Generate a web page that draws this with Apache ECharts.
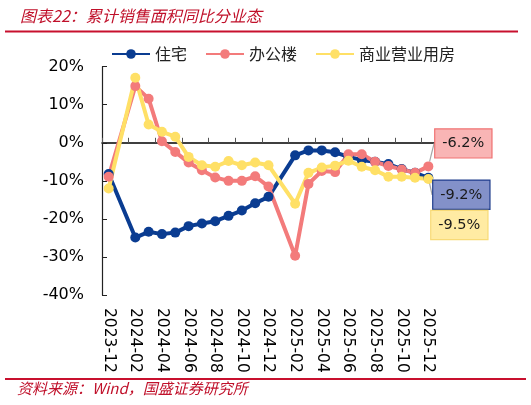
<!DOCTYPE html>
<html>
<head>
<meta charset="utf-8">
<script src="https://cdn.jsdelivr.net/npm/echarts@6/dist/echarts.min.js"></script>
<style>
html,body{margin:0;padding:0;background:#fff;}
#c{width:531px;height:405px;}
</style>
</head>
<body>
<div id="c"></div>
<script>
var categories = ['2023-12','2024-01','2024-02','2024-03','2024-04','2024-05','2024-06','2024-07','2024-08','2024-09','2024-10','2024-11','2024-12',
  '2025-01','2025-02','2025-03','2025-04','2025-05','2025-06','2025-07','2025-08','2025-09','2025-10','2025-11','2025-12'];
var residential = [-8.2, null, -24.9, -23.4, -24.0, -23.6, -21.9, -21.2, -20.6, -19.2, -17.8, -15.9, -14.2, null, -3.3, -2.0, -2.0, -2.5, -3.7, -4.5, -5.0, -5.6, -6.9, -7.9, -9.2];
var office = [-8.9, null, 14.9, 11.6, 0.4, -2.4, -5.2, -7.2, -9.1, -10.0, -10.0, -8.8, -11.5, null, -29.7, -10.8, -7.4, -7.7, -3.0, -3.0, -5.0, -6.1, -7.0, -7.9, -6.2];
var commercial = [-12.0, null, 17.1, 4.8, 2.9, 1.6, -3.7, -5.9, -6.3, -4.8, -5.9, -5.2, -5.9, null, -16.0, -7.9, -6.5, -6.0, -4.7, -6.3, -7.2, -8.9, -8.9, -9.2, -9.5];
var seriesNames = ['住宅','办公楼','商业营业用房'];
var yTicks = [-40, -30, -20, -10, 0, 10, 20];

var numFont = 'DejaVu Sans';
var cjkFont = 'Noto Sans CJK SC';

function withLastLabel(arr, bg, border) {
  var last = arr.length - 1;
  return arr.map(function (v, i) {
    if (i !== last) return v;
    return {
      value: v,
      label: {
        show: true,
        position: 'inside',
        formatter: function (p) { return p.value.toFixed(1) + '%'; },
        fontFamily: numFont,
        fontSize: 14.5,
        color: '#1a1a1a',
        backgroundColor: bg,
        borderColor: border,
        borderWidth: 1.2,
        padding: [6, 7, 5, 7],
        lineHeight: 17
      }
    };
  });
}

function mkSeries(name, arr, color, bg, border, dx, dy) {
  return {
    name: name,
    type: 'line',
    xAxisIndex: 0,
    data: withLastLabel(arr, bg, border),
    connectNulls: true,
    symbol: 'circle',
    symbolSize: 10,
    showAllSymbol: true,
    lineStyle: { color: color, width: 4 },
    itemStyle: { color: color },
    labelLayout: { dx: dx, dy: dy },
    labelLine: { show: true, lineStyle: { color: '#A6A6A6', width: 1.2 } },
    emphasis: { disabled: true }
  };
}

var chart = echarts.init(document.getElementById('c'), null, { renderer: 'canvas' });
chart.setOption({
  animation: false,
  backgroundColor: '#fff',
  title: {
    text: '图表22：累计销售面积同比分业态',
    left: 15,
    top: 3,
    textStyle: { fontSize: 16, fontStyle: 'italic', fontWeight: 'normal', color: '#C0102A', fontFamily: cjkFont }
  },
  graphic: [
    { type: 'line', shape: { x1: 5, y1: 31.5, x2: 518, y2: 31.5 }, style: { stroke: '#C8102E', lineWidth: 2 } },
    { type: 'line', shape: { x1: 5, y1: 379, x2: 526, y2: 379 }, style: { stroke: '#C8102E', lineWidth: 2 } },
    { type: 'text', left: 17, top: 381, style: { text: '资料来源：Wind，国盛证券研究所', font: 'italic 15px "Noto Sans CJK SC"', fill: '#C0102A' } }
  ],
  legend: {
    data: seriesNames,
    left: 106,
    top: 41,
    itemWidth: 38,
    itemHeight: 12,
    itemGap: 18,
    textStyle: { fontSize: 16, color: '#222', fontFamily: cjkFont },
    selectedMode: false
  },
  grid: { left: 102, right: 96, top: 66.7, bottom: 110, containLabel: false },
  xAxis: [
    {
      type: 'category',
      data: categories,
      position: 'bottom',
      axisLine: { show: false, onZero: false },
      axisTick: { show: false },
      axisLabel: { interval: 1, rotate: -90, margin: 13, fontSize: 15.5, color: '#000', fontFamily: numFont }
    },
    {
      type: 'category',
      data: categories,
      position: 'bottom',
      axisLine: { show: true, onZero: true, lineStyle: { color: '#000', width: 1.5 } },
      axisTick: { show: true, inside: true, interval: 1, length: 5, lineStyle: { color: '#555', width: 1 } },
      axisLabel: { show: false },
      splitLine: { show: false }
    }
  ],
  yAxis: {
    type: 'value',
    min: yTicks[0],
    max: yTicks[yTicks.length - 1],
    interval: 10,
    axisLine: { show: true, lineStyle: { color: '#222', width: 1.2 } },
    axisTick: { show: true, inside: true, length: 5, lineStyle: { color: '#222' } },
    splitLine: { show: false },
    axisLabel: { formatter: '{value}%', fontSize: 16, color: '#000', margin: 18, fontFamily: numFont }
  },
  series: [
    mkSeries(seriesNames[0], residential, '#0A3C91', '#8391C9', '#1F3D8C', 33, 17),
    mkSeries(seriesNames[1], office, '#F37B7B', '#F9B5B5', '#F07272', 35, -23),
    mkSeries(seriesNames[2], commercial, '#FFE066', '#FFEBA3', '#F8DA76', 31, 46)
  ]
});
</script>
</body>
</html>
